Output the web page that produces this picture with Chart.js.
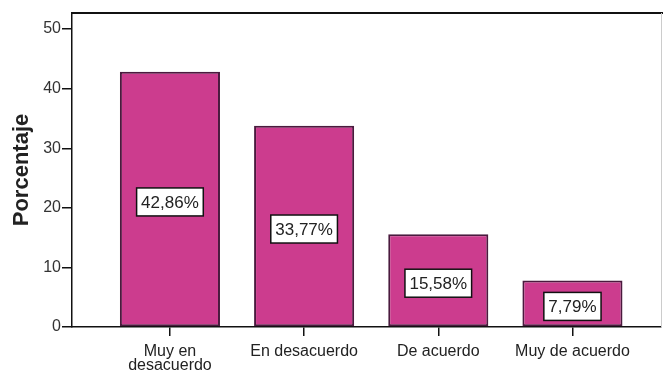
<!DOCTYPE html>
<html>
<head>
<meta charset="utf-8">
<script src="https://cdn.jsdelivr.net/npm/chart.js@4"></script>
<style>
  body { margin: 0; background: #fff; }
  #wrap { width: 663px; height: 374px; position: relative; }
</style>
</head>
<body>
<div id="wrap"><canvas id="chart"></canvas></div>
<script>
// categorías y porcentajes
const categorias = [['Muy en', 'desacuerdo'], 'En desacuerdo', 'De acuerdo', 'Muy de acuerdo'];
const porcentajes = [42.86, 33.77, 15.58, 7.79];
const etiquetas = ['42,86%', '33,77%', '15,58%', '7,79%'];
const yTicks = [0, 10, 20, 30, 40, 50];

const colorBarra = '#cc3c8e';
const bordeBarra = '#4a1a3e';

// recuadro blanco con el porcentaje en el centro de cada barra
const etiquetasPlugin = {
    id: 'etiquetas',
    afterDatasetsDraw(chart) {
        const ctx = chart.ctx;
        const meta = chart.getDatasetMeta(0);
        ctx.save();
        ctx.font = '17px "Liberation Sans", Arial, sans-serif';
        ctx.textAlign = 'center';
        ctx.textBaseline = 'middle';
        meta.data.forEach((bar, i) => {
            const p = bar.getProps(['x', 'y', 'base'], true);
            const cy = (p.y + p.base) / 2 + 3;
            const w = ctx.measureText(etiquetas[i]).width + 9;
            const h = 28;
            ctx.fillStyle = '#fff';
            ctx.fillRect(p.x - w / 2, cy - h / 2, w, h);
            ctx.strokeStyle = '#111';
            ctx.lineWidth = 1.5;
            ctx.strokeRect(p.x - w / 2, cy - h / 2, w, h);
            ctx.fillStyle = '#222';
            ctx.fillText(etiquetas[i], p.x, cy + 1);
        });
        ctx.restore();
    }
};

// línea superior y borde derecho del área del gráfico
const marcoPlugin = {
    id: 'marco',
    afterDraw(chart) {
        const a = chart.chartArea;
        const ctx = chart.ctx;
        ctx.save();
        ctx.strokeStyle = '#111';
        ctx.lineWidth = 2;
        ctx.beginPath();
        ctx.moveTo(a.left, a.top);
        ctx.lineTo(chart.width, a.top);
        ctx.stroke();
        ctx.strokeStyle = '#ccc';
        ctx.lineWidth = 1;
        ctx.beginPath();
        ctx.moveTo(a.right + 0.5, a.top);
        ctx.lineTo(a.right + 0.5, a.bottom);
        ctx.stroke();
        ctx.restore();
    }
};

new Chart(document.getElementById('chart'), {
    type: 'bar',
    data: {
        datasets: [{
            data: porcentajes.map((v, i) => ({ x: i, y: v })),
            backgroundColor: colorBarra,
            borderColor: bordeBarra,
            borderWidth: 2,
            borderSkipped: false,
            categoryPercentage: 1,
            barPercentage: 0.746
        }]
    },
    options: {
        responsive: true,
        maintainAspectRatio: false,
        animation: false,
        layout: { padding: { top: 13, right: 2, left: 0, bottom: 0 } },
        plugins: {
            legend: { display: false },
            tooltip: { enabled: false }
        },
        scales: {
            x: {
                type: 'linear',
                offset: false,
                min: -0.73,
                max: 3.66,
                afterBuildTicks: (scale) => {
                    scale.ticks = categorias.map((c, i) => ({ value: i }));
                },
                afterFit: (scale) => { scale.height = 47; },
                ticks: {
                    callback: (value) => categorias[value],
                    font: { family: '"Liberation Sans", Arial, sans-serif', size: 16, lineHeight: 0.85 },
                    color: '#222',
                    padding: 9,
                    maxRotation: 0,
                    autoSkip: false
                },
                grid: { offset: false, drawOnChartArea: false, tickLength: 9, color: '#111', lineWidth: 1.5 },
                border: { color: '#111', width: 1.5 }
            },
            y: {
                min: 0,
                max: 52.7,
                afterBuildTicks: (scale) => {
                    scale.ticks = yTicks.map(v => ({ value: v }));
                },
                afterFit: (scale) => { scale.width = 72; },
                ticks: {
                    font: { family: '"Liberation Sans", Arial, sans-serif', size: 16 },
                    color: '#333',
                    padding: 1
                },
                grid: { drawOnChartArea: false, tickLength: 10, color: '#111', lineWidth: 1.5 },
                border: { color: '#111', width: 1.5 },
                title: {
                    display: true,
                    text: 'Porcentaje',
                    font: { family: '"Liberation Sans", Arial, sans-serif', size: 22, weight: 'bold' },
                    color: '#222',
                    padding: { top: 9, bottom: 0 }
                }
            }
        }
    },
    plugins: [etiquetasPlugin, marcoPlugin]
});
</script>
</body>
</html>
